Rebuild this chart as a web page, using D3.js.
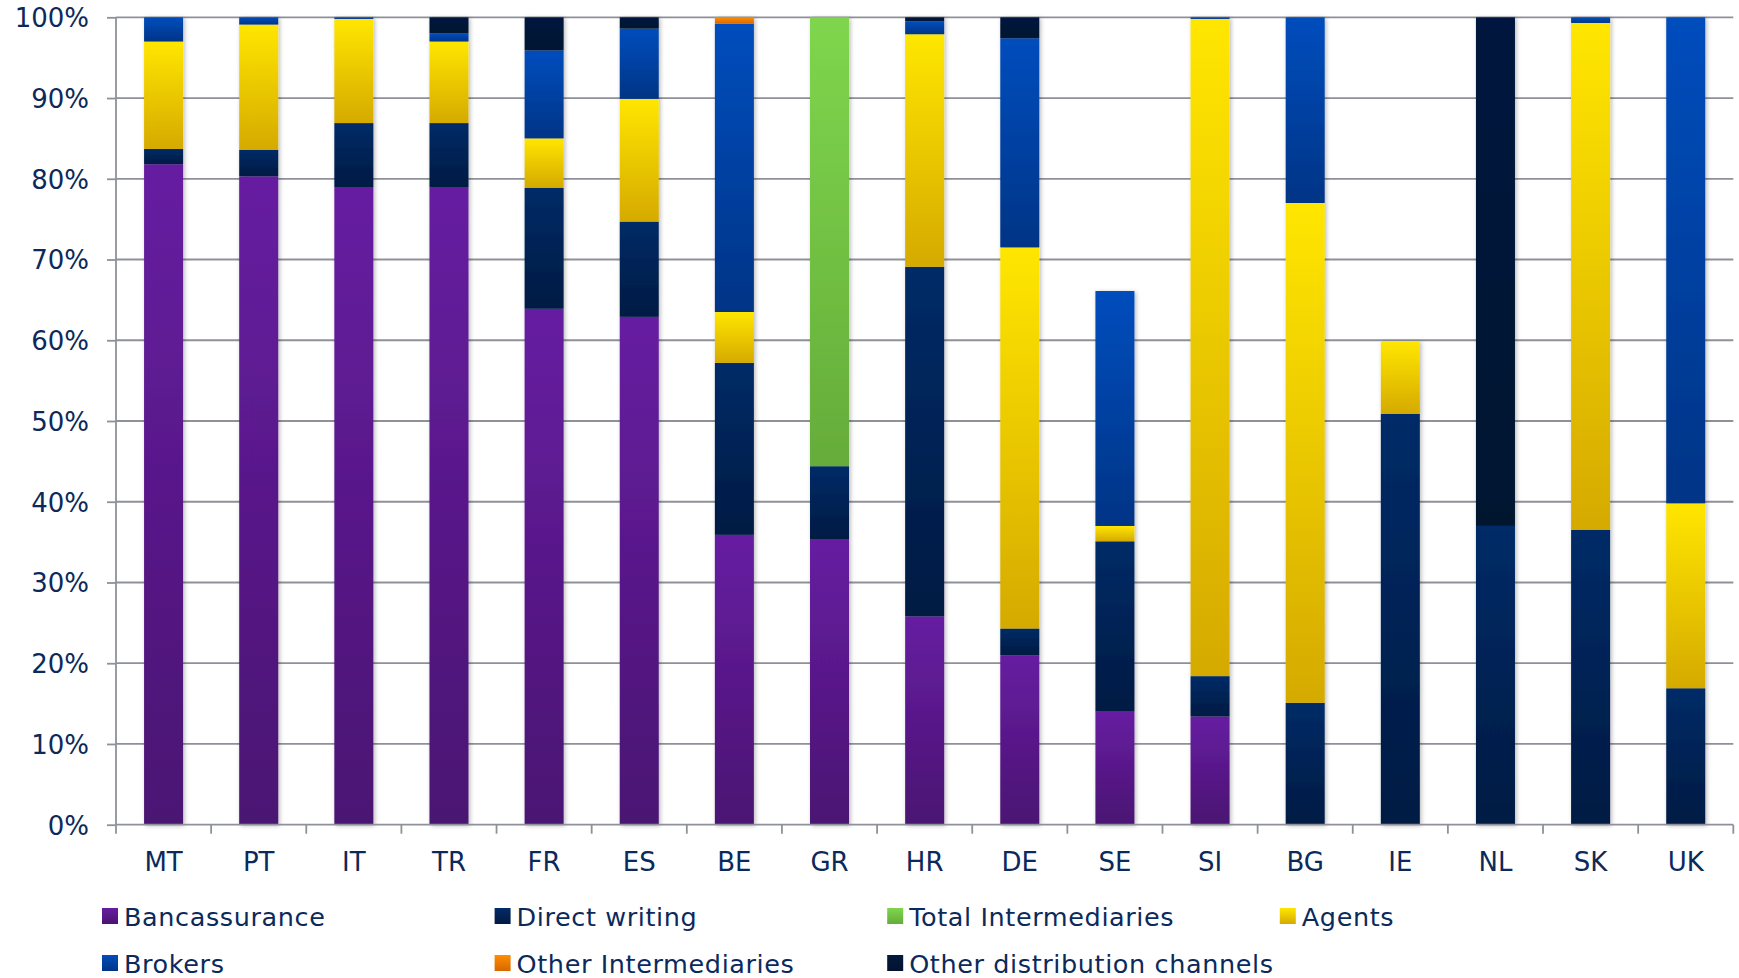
<!DOCTYPE html>
<html>
<head>
<meta charset="utf-8">
<script src="https://cdn.jsdelivr.net/npm/d3@7"></script>
<style>
  html, body { margin: 0; padding: 0; background: #ffffff; }
  svg { display: block; }
  text { font-family: "DejaVu Sans", Verdana, sans-serif; fill: #0b2a5b; }
</style>
</head>
<body>
<svg id="chart" width="1739" height="978"></svg>
<script>
// Distribution channel shares (%) by country
const categories = ["MT","PT","IT","TR","FR","ES","BE","GR","HR","DE","SE","SI","BG","IE","NL","SK","UK"];
const bancassurance       = [81.8, 80.3, 78.9, 78.9, 63.9, 62.9, 35.9, 35.3, 25.8, 21.0, 14.0, 13.4,  0.0,  0.0,  0.0,  0.0,  0.0];
const directWriting       = [ 1.9,  3.3,  8.0,  8.0, 15.0, 11.8, 21.3,  9.1, 43.3,  3.3, 21.1,  5.0, 15.1, 50.9, 37.0, 36.5, 16.9];
const totalIntermediaries = [ 0.0,  0.0,  0.0,  0.0,  0.0,  0.0,  0.0, 55.6,  0.0,  0.0,  0.0,  0.0,  0.0,  0.0,  0.0,  0.0,  0.0];
const agents              = [13.3, 15.5, 12.9, 10.1,  6.1, 15.2,  6.3,  0.0, 28.8, 47.2,  1.9, 81.4, 61.9,  9.0,  0.0, 62.8, 22.9];
const brokers             = [ 3.0,  0.9,  0.2,  1.0, 10.9,  8.7, 35.7,  0.0,  1.6, 25.9, 29.1,  0.2, 23.0,  0.0,  0.0,  0.7, 60.2];
const otherIntermediaries = [ 0.0,  0.0,  0.0,  0.0,  0.0,  0.0,  0.8,  0.0,  0.0,  0.0,  0.0,  0.0,  0.0,  0.0,  0.0,  0.0,  0.0];
const otherChannels       = [ 0.0,  0.0,  0.0,  2.0,  4.1,  1.4,  0.0,  0.0,  0.5,  2.6,  0.0,  0.0,  0.0,  0.0, 63.0,  0.0,  0.0];
const yTicks = [0, 10, 20, 30, 40, 50, 60, 70, 80, 90, 100];

const seriesNames = ["Bancassurance","Direct writing","Total Intermediaries","Agents","Brokers","Other Intermediaries","Other distribution channels"];
const seriesValues = [bancassurance, directWriting, totalIntermediaries, agents, brokers, otherIntermediaries, otherChannels];
// gradient stops (top, bottom) for each series
const seriesColors = [
  ["#661da1", "#4a1472"],
  ["#032b67", "#011a43"],
  ["#7fd64d", "#65ac3a"],
  ["#ffe600", "#d5aa00"],
  ["#004dbd", "#003486"],
  ["#ff8d00", "#d76700"],
  ["#04193f", "#02132f"]
];

const rows = categories.map((c, i) => {
  const r = { category: c };
  seriesNames.forEach((s, k) => { r[s] = seriesValues[k][i]; });
  return r;
});

const svg = d3.select("#chart");
const plotLeft = 116, plotRight = 1733.3, plotTop = 17.3, plotBottom = 824.7;

const x = d3.scaleBand().domain(categories).range([plotLeft, plotRight]).paddingInner(0.59).paddingOuter(0.295);
const y = d3.scaleLinear().domain([0, 100]).range([plotBottom, plotTop]);

const defs = svg.append("defs");
seriesColors.forEach((c, k) => {
  const g = defs.append("linearGradient").attr("id", "grad" + k)
    .attr("x1", 0).attr("y1", 0).attr("x2", 0).attr("y2", 1);
  g.append("stop").attr("offset", "0%").attr("stop-color", c[0]);
  g.append("stop").attr("offset", "100%").attr("stop-color", c[1]);
});
const shadow = defs.append("filter").attr("id", "barShadow")
  .attr("x", "-30%").attr("y", "-5%").attr("width", "160%").attr("height", "110%");
shadow.append("feDropShadow").attr("dx", 1.5).attr("dy", 1).attr("stdDeviation", 2)
  .attr("flood-color", "#000").attr("flood-opacity", 0.28);

const gridColor = "#8f919a";

// horizontal gridlines
svg.append("g").selectAll("line").data(yTicks.filter(t => t > 0)).join("line")
  .attr("x1", plotLeft).attr("x2", plotRight)
  .attr("y1", d => y(d)).attr("y2", d => y(d))
  .attr("stroke", gridColor).attr("stroke-width", 1.8);

// stacked bars
const stack = d3.stack().keys(seriesNames);
const layers = stack(rows);
const barGroups = svg.append("g").selectAll("g").data(categories).join("g")
  .attr("filter", "url(#barShadow)");
barGroups.each(function(cat, i) {
  const g = d3.select(this);
  layers.forEach((layer, k) => {
    const seg = layer[i];
    if (seg[1] - seg[0] <= 0) return;
    g.append("rect")
      .attr("x", x(cat))
      .attr("width", x.bandwidth())
      .attr("y", y(seg[1]))
      .attr("height", y(seg[0]) - y(seg[1]))
      .attr("fill", "url(#grad" + k + ")");
  });
});

// y axis
const yAxis = d3.axisLeft(y).tickValues(yTicks).tickFormat(d => d + "%").tickSize(9).tickPadding(18);
const yg = svg.append("g").attr("transform", `translate(${plotLeft},0)`).call(yAxis);
yg.select(".domain").remove();
yg.selectAll(".tick line").attr("stroke", gridColor).attr("stroke-width", 1.8);
yg.selectAll(".tick text").attr("font-size", 26).attr("dy", "0.36em")
  .style("font-family", '"DejaVu Sans", Verdana, sans-serif').attr("fill", "#0b2a5b");
svg.append("line").attr("x1", plotLeft).attr("x2", plotLeft).attr("y1", plotTop).attr("y2", plotBottom)
  .attr("stroke", gridColor).attr("stroke-width", 1.8);

// x axis
svg.append("line").attr("x1", plotLeft).attr("x2", plotRight).attr("y1", plotBottom).attr("y2", plotBottom)
  .attr("stroke", gridColor).attr("stroke-width", 1.8);
const boundaries = categories.map(c => x(c) - x.step() * x.paddingInner() / 2).concat([plotRight]);
svg.append("g").selectAll("line").data(boundaries).join("line")
  .attr("x1", d => d).attr("x2", d => d)
  .attr("y1", plotBottom).attr("y2", plotBottom + 9)
  .attr("stroke", gridColor).attr("stroke-width", 1.8);
const xAxis = d3.axisBottom(x).tickSize(0).tickPadding(0);
const xg = svg.append("g").attr("transform", `translate(0,${plotBottom})`).call(xAxis);
xg.select(".domain").remove();
xg.selectAll(".tick text").attr("y", 46).attr("dy", 0).attr("font-size", 26)
  .style("font-family", '"DejaVu Sans", Verdana, sans-serif').attr("fill", "#0b2a5b");

// legend
const legendCols = 4, colStep = 392.6, legendX = 102, rowYs = [908, 955];
const legend = svg.append("g").selectAll("g").data(seriesNames).join("g")
  .attr("transform", (d, i) => `translate(${legendX + (i % legendCols) * colStep},${rowYs[Math.floor(i / legendCols)]})`);
legend.append("rect").attr("width", 16).attr("height", 16)
  .attr("fill", (d, i) => "url(#grad" + i + ")");
legend.append("text").attr("x", 22).attr("y", 17.5).attr("font-size", 25.5)
  .attr("letter-spacing", 0.6).text(d => d);
</script>
</body>
</html>
